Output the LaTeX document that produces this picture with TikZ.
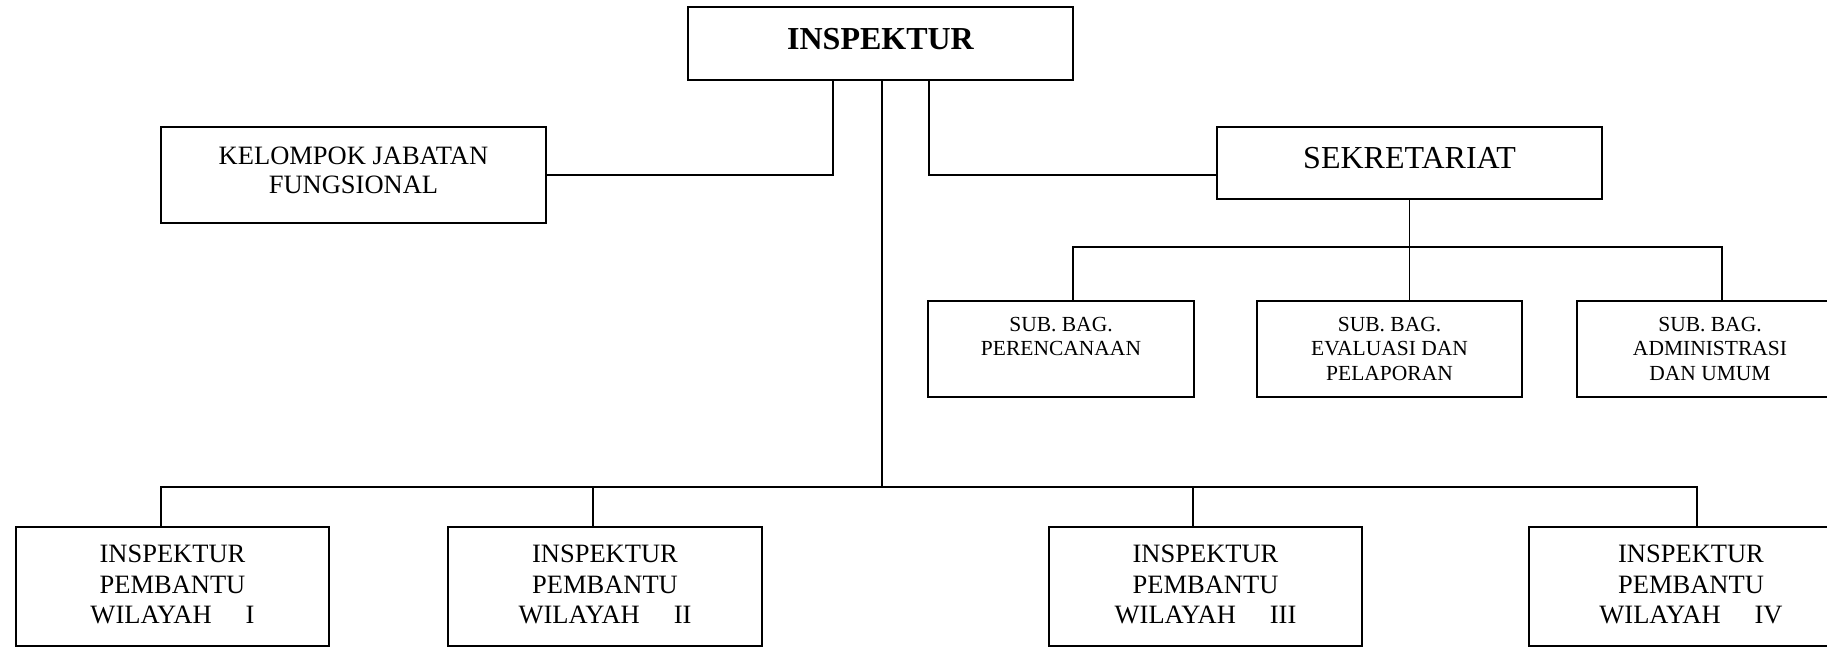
\documentclass[tikz,border=0pt]{standalone}
\usepackage{fontspec}
\setmainfont{Liberation Serif}
\begin{document}
\begin{tikzpicture}[x=1pt,y=-1pt,
  box/.style={draw, line width=2.8pt, rectangle, inner sep=0pt, outer sep=0pt},
  txt/.style={inner sep=0pt, outer sep=0pt, anchor=north, align=center},
  conn/.style={line width=1.9pt},
  bigf/.style={font=\fontsize{32}{38}\selectfont},
  kelf/.style={font=\fontsize{26.5}{29}\selectfont},
  subf/.style={font=\fontsize{21.5}{24.5}\selectfont},
  ipf/.style={font=\fontsize{26.5}{30.5}\selectfont}]
\useasboundingbox (0,0) rectangle (1827,648);
\clip (0,0) rectangle (1827,648);
% boxes
\node[box, minimum width=385pt, minimum height=73pt] (ins) at (880.5,43.5) {};
\node[box, minimum width=385pt, minimum height=96pt] (kel) at (353.5,175) {};
\node[box, minimum width=385pt, minimum height=72pt] (sek) at (1409.5,163) {};
\node[box, minimum width=266pt, minimum height=96pt] (sb1) at (1061,349) {};
\node[box, minimum width=265pt, minimum height=96pt] (sb2) at (1389.5,349) {};
\node[box, minimum width=266pt, minimum height=96pt] (sb3) at (1710,349) {};
\node[box, minimum width=313pt, minimum height=119pt] (ip1) at (172.5,586.5) {};
\node[box, minimum width=314pt, minimum height=119pt] (ip2) at (605,586.5) {};
\node[box, minimum width=313pt, minimum height=119pt] (ip3) at (1205.5,586.5) {};
\node[box, minimum width=324pt, minimum height=119pt] (ip4) at (1691,586.5) {};
% texts
\node[txt, bigf] (insT) at (880.5,28) {\bfseries INSPEKTUR};
\node[txt, kelf] (kelT) at (353.5,147) {KELOMPOK JABATAN\\FUNGSIONAL};
\node[txt, bigf] (sekT) at (1409.5,147) {SEKRETARIAT};
\node[txt, subf] (sb1T) at (1061,317) {SUB. BAG.\\PERENCANAAN};
\node[txt, subf] (sb2T) at (1389.5,317) {SUB. BAG.\\EVALUASI DAN\\PELAPORAN};
\node[txt, subf] (sb3T) at (1710,317) {SUB. BAG.\\ADMINISTRASI\\DAN UMUM};
\node[txt, ipf] (ip1T) at (172.5,545) {INSPEKTUR\\PEMBANTU\\WILAYAH\hspace{34pt}I};
\node[txt, ipf] (ip2T) at (605,545) {INSPEKTUR\\PEMBANTU\\WILAYAH\hspace{34pt}II};
\node[txt, ipf] (ip3T) at (1205.5,545) {INSPEKTUR\\PEMBANTU\\WILAYAH\hspace{34pt}III};
\node[txt, ipf] (ip4T) at (1691,545) {INSPEKTUR\\PEMBANTU\\WILAYAH\hspace{34pt}IV};
% junction coordinates
\coordinate (jl) at (833,0);
\coordinate (jc) at (882,0);
\coordinate (jr) at (929,0);
\coordinate (d1) at (161,487);
\coordinate (d2) at (593,487);
\coordinate (d3) at (1193,487);
\coordinate (d4) at (1697,487);
\coordinate (s1) at (1073,247);
\coordinate (s3) at (1722,247);
% connectors
\draw[conn] (ins.south -| jl) |- (kel.east);
\draw[conn] (ins.south -| jr) |- ([yshift=-12pt]sek.west);
\draw[conn] (ins.south -| jc) -- (jc |- d1);
\draw[conn] (d1 |- ip1.north) -- (d1) -- (d4) -- (d4 |- ip4.north);
\draw[conn] (d2) -- (d2 |- ip2.north);
\draw[conn] (d3) -- (d3 |- ip3.north);
\draw[conn] (sek.south) -- (sek.south |- sb2.north);
\draw[conn] (s1 |- sb1.north) -- (s1) -- (s3) -- (s3 |- sb3.north);
\end{tikzpicture}
\end{document}
